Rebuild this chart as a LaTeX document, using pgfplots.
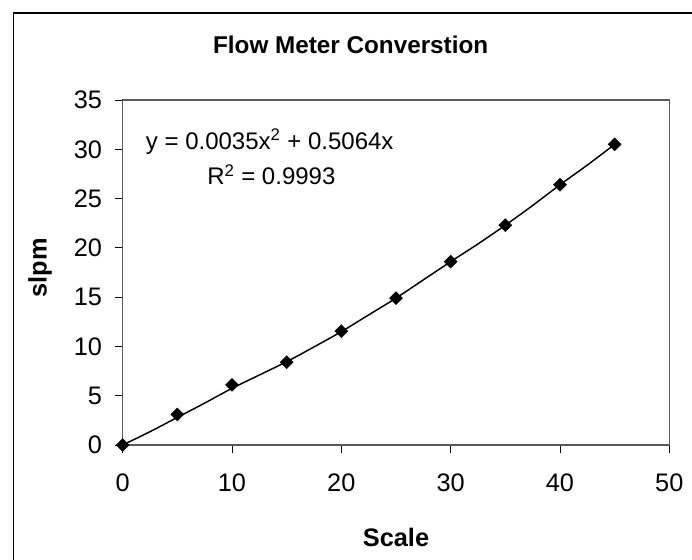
\documentclass[border=0pt]{standalone}
\usepackage{fontspec}
\setmainfont{Liberation Sans}
\usepackage{pgfplots}
\pgfplotsset{compat=1.18}
\begin{document}
\begin{tikzpicture}
\path[use as bounding box] (0pt,0pt) rectangle (519pt,420pt);
\draw[line width=1.1pt] (10.1pt,0pt) -- (10.1pt,410.25pt) -- (519pt,410.25pt);
\node[font=\fontsize{18.2}{21}\selectfont\bfseries] at (263pt,386pt) {Flow Meter Converstion};
\begin{axis}[
  scale only axis,
  width=410pt, height=258.75pt,
  at={(92pt,86.25pt)}, anchor=south west,
  xmin=0, xmax=50, ymin=0, ymax=35,
  xtick={0,10,...,50}, ytick={0,5,...,35},
  tick align=outside, tick pos=left,
  major tick length=6pt,
  tick style={black, line width=0.6pt},
  axis line style={black!65, line width=0.9pt},
  /pgf/number format/assume math mode=true,
  ticklabel style={font=\fontsize{19}{22}\selectfont},
  xticklabel style={yshift=-12pt},
  yticklabel style={xshift=-6pt},
  xlabel={Scale}, ylabel={slpm},
  xlabel style={font=\fontsize{19}{22}\selectfont\bfseries, at={(axis description cs:0.5,0)}, anchor=center, yshift=-69pt},
  ylabel style={font=\fontsize{19}{22}\selectfont\bfseries, at={([xshift=-62pt]axis description cs:0,0.514)}, anchor=center},
  clip=false,
]
\addplot[black, line width=1.1pt, smooth] coordinates {
(0,0) (2.5,1.35) (5,2.8) (7.5,4.25) (10,5.75) (12.5,7.1) (15,8.45) (17.5,9.95)
(20,11.5) (22.5,13.2) (25,14.9) (27.5,16.75) (30,18.6) (32.5,20.4) (35,22.3)
(37.5,24.3) (40,26.4) (42.5,28.4) (45,30.5)};
\addplot[only marks, mark=square*, mark size=3.4pt, mark options={rotate=45, fill=black, draw=black}] coordinates {
(0,0) (5,3.1) (10,6.1) (15,8.4) (20,11.55) (25,14.9) (30,18.6) (35,22.3) (40,26.4) (45,30.5)};
\node[font=\fontsize{18}{21}\selectfont, anchor=center] at (axis description cs:0.269,0.879) {y = 0.0035x\textsuperscript{2} + 0.5064x};
\node[font=\fontsize{18}{21}\selectfont, anchor=center] at (axis description cs:0.272,0.783) {R\textsuperscript{2} = 0.9993};
\end{axis}
\end{tikzpicture}
\end{document}
